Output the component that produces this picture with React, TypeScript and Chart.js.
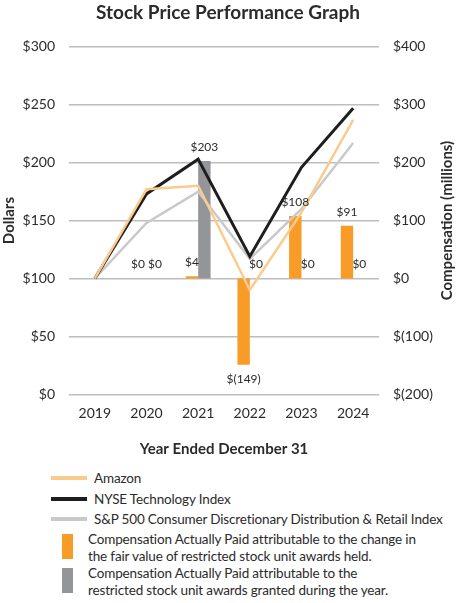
import { useEffect, useRef } from "react";
import { Chart, registerables, Plugin } from "chart.js";

Chart.register(...registerables);

const years = ["2019", "2020", "2021", "2022", "2023", "2024"];
const amazon = [100, 177, 180, 90, 157, 237];
const nyseTech = [100, 173, 203, 119, 196, 247];
const spRetail = [100, 148, 175, 117, 160, 217];
// compensation actually paid, $ millions
const capFairValue = [null, 0, 4, -149, 108, 91];
const capGranted = [null, 0, 203, 0, 0, 0];

const FONT = "Lato, 'Open Sans', sans-serif";
const TEXT = "#2b2b2b";

const money = (v: number) => (v < 0 ? `$(${-v})` : `$${v}`);

const barLabels: Plugin = {
  id: "barLabels",
  afterDatasetsDraw(chart) {
    const ctx = chart.ctx;
    ctx.save();
    ctx.font = `12px ${FONT}`;
    ctx.fillStyle = TEXT;
    ctx.textAlign = "center";
    ctx.textBaseline = "middle";
    // collect labels per category so touching ones can be pushed apart
    const byIndex: Record<number, { text: string; x: number; y: number; w: number }[]> = {};
    chart.data.datasets.forEach((ds, i) => {
      if ((ds as any).type !== "bar") return;
      chart.getDatasetMeta(i).data.forEach((el: any, j) => {
        const v = ds.data[j] as number | null;
        if (v === null || v === undefined) return;
        const text = money(v);
        const y = v < 0 ? el.y + 14 : el.y - 14;
        (byIndex[j] = byIndex[j] || []).push({ text, x: el.x, y, w: ctx.measureText(text).width });
      });
    });
    Object.values(byIndex).forEach((items) => {
      if (items.length === 2 && Math.abs(items[0].y - items[1].y) < 12) {
        const gap = items[1].x - items[0].x - (items[0].w + items[1].w) / 2;
        if (gap < 3) {
          const d = (3 - gap) / 2;
          items[0].x -= d;
          items[1].x += d;
        }
      }
      items.forEach((it) => ctx.fillText(it.text, it.x, it.y));
    });
    ctx.restore();
  },
  afterDraw(chart) {
    // right axis title reads bottom-to-top like the left one
    const { ctx, chartArea } = chart;
    ctx.save();
    ctx.font = `bold 15px ${FONT}`;
    ctx.fillStyle = TEXT;
    ctx.textAlign = "center";
    ctx.textBaseline = "middle";
    ctx.translate(chart.width - 9, (chartArea.top + chartArea.bottom) / 2);
    ctx.rotate(-Math.PI / 2);
    ctx.fillText("Compensation (millions)", 0, 0);
    ctx.restore();
  },
};

const ChartBox = () => {
  const ref = useRef<HTMLCanvasElement | null>(null);

  useEffect(() => {
    if (!ref.current) return;
    const tick = { font: { family: FONT, size: 14 }, color: TEXT };
    const chart = new Chart(ref.current, {
      type: "bar",
      data: {
        labels: years,
        datasets: [
          { type: "line", label: "Amazon", data: amazon, borderColor: "#FBCB8E", borderWidth: 2.5, pointRadius: 0, yAxisID: "y", tension: 0 },
          { type: "line", label: "NYSE Technology Index", data: nyseTech, borderColor: "#1e1e1e", borderWidth: 3, pointRadius: 0, yAxisID: "y", tension: 0 },
          { type: "line", label: "S&P 500 Consumer Discretionary Distribution & Retail Index", data: spRetail, borderColor: "#C9C9C9", borderWidth: 2.5, pointRadius: 0, yAxisID: "y", tension: 0 },
          { type: "bar", label: "CAP fair value", data: capFairValue, backgroundColor: "#F89C27", yAxisID: "y1", categoryPercentage: 0.48, barPercentage: 1 },
          { type: "bar", label: "CAP granted", data: capGranted, backgroundColor: "#939598", yAxisID: "y1", categoryPercentage: 0.48, barPercentage: 1 },
        ] as any,
      },
      plugins: [barLabels],
      options: {
        animation: false,
        responsive: true,
        maintainAspectRatio: false,
        layout: { padding: 0 },
        plugins: {
          legend: { display: false },
          tooltip: { enabled: false },
          title: {
            display: true,
            text: "Stock Price Performance Graph",
            font: { family: FONT, size: 19, weight: "bold" },
            color: TEXT,
            padding: { top: 1, bottom: 23 },
          },
        },
        scales: {
          x: {
            offset: true,
            grid: { display: false },
            border: { display: false },
            ticks: { ...tick, padding: 3 },
            title: {
              display: true,
              text: "Year Ended December 31",
              font: { family: FONT, size: 15, weight: "bold" },
              color: TEXT,
              padding: { top: 0, bottom: 2 },
            },
            afterFit: (s: any) => { s.height = 65.7; },
          },
          y: {
            position: "left",
            min: 0,
            max: 300,
            ticks: { ...tick, stepSize: 50, padding: 14, callback: (v: any) => money(v) },
            grid: { color: "#BEBEBE", lineWidth: 1.5, drawTicks: false },
            border: { display: false },
            title: {
              display: true,
              text: "Dollars",
              font: { family: FONT, size: 15, weight: "bold" },
              color: TEXT,
              padding: 0,
            },
            afterFit: (s: any) => { s.width = 69; },
          },
          y1: {
            position: "right",
            min: -200,
            max: 400,
            ticks: { ...tick, stepSize: 100, padding: 14, callback: (v: any) => money(v) },
            grid: { display: false, drawTicks: false },
            border: { display: false },
            afterFit: (s: any) => { s.width = 77; },
          },
        },
      },
    });
    return () => chart.destroy();
  }, []);

  return (
    <div style={{ position: "absolute", left: 0, top: 0, width: 456, height: 460 }}>
      <canvas ref={ref} />
    </div>
  );
};

const lineItems = [
  { label: "Amazon", color: "#FBCB8E", y: 478 },
  { label: "NYSE Technology Index", color: "#1e1e1e", y: 499 },
  { label: "S&P 500 Consumer Discretionary Distribution & Retail Index", color: "#C9C9C9", y: 519 },
];
const barItems = [
  { lines: ["Compensation Actually Paid attributable to the change in", "the fair value of restricted stock unit awards held."], color: "#F89C27", y: 534 },
  { lines: ["Compensation Actually Paid attributable to the", "restricted stock unit awards granted during the year."], color: "#939598", y: 568 },
];

const textStyle = { fontSize: 13.5, letterSpacing: "-0.15px", whiteSpace: "nowrap" as const };

const Legend = () => (
  <>
    {lineItems.map((it) => (
      <div key={it.label}>
        <div style={{ position: "absolute", left: 51, top: it.y - 2, width: 36, height: 4, background: it.color }} />
        <div style={{ position: "absolute", left: 94, top: it.y - 10, lineHeight: "20px", ...textStyle }}>{it.label}</div>
      </div>
    ))}
    {barItems.map((it) => (
      <div key={it.lines[0]}>
        <div style={{ position: "absolute", left: 62, top: it.y, width: 11, height: 25, background: it.color }} />
        <div style={{ position: "absolute", left: 88, top: it.y - 3.5, lineHeight: "17.4px", ...textStyle }}>
          {it.lines.map((l) => <div key={l}>{l}</div>)}
        </div>
      </div>
    ))}
  </>
);

export default function App() {
  return (
    <div style={{ position: "fixed", left: 0, top: 0, width: 456, height: 603, background: "#fff", fontFamily: FONT, color: TEXT }}>
      <ChartBox />
      <Legend />
    </div>
  );
}
